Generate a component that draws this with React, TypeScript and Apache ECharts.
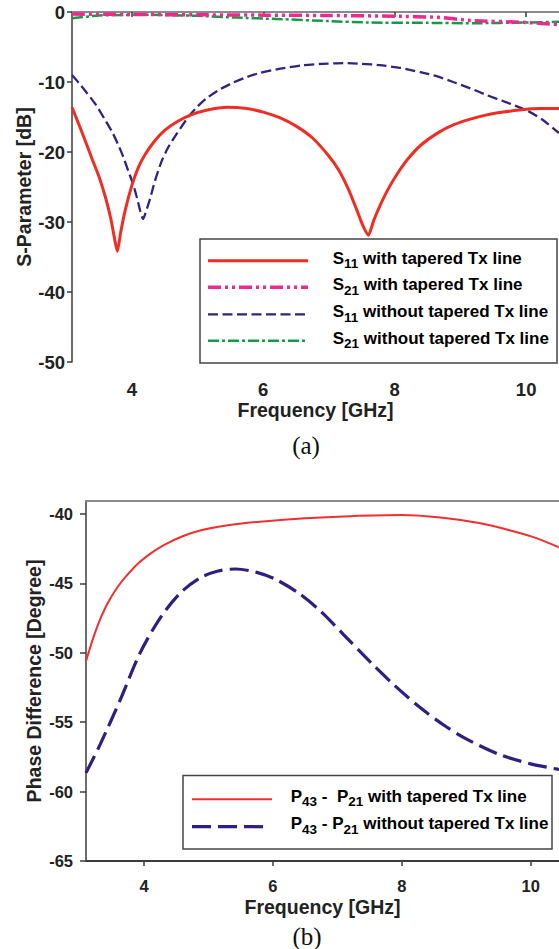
import React, { useEffect, useRef } from "react";
import * as echarts from "echarts";

// ---------- data (chart a: S-parameters) ----------
const s11Tapered: [number, number][] = [
  [3.09, -13.6], [3.2, -16.2], [3.3, -18.6], [3.4, -21.1], [3.5, -23.5], [3.6, -26.5],
  [3.68, -29.5], [3.74, -32.5], [3.78, -34.2], [3.83, -31.5], [3.9, -28.3], [4.0, -24.8],
  [4.1, -22.2], [4.2, -20.4], [4.35, -18.4], [4.5, -16.9], [4.7, -15.6], [4.9, -14.7],
  [5.15, -14.0], [5.45, -13.6], [5.75, -13.8], [6.0, -14.3], [6.25, -15.1], [6.5, -16.3],
  [6.75, -18.0], [7.0, -20.6], [7.15, -22.6], [7.3, -25.4], [7.42, -28.2], [7.52, -30.6],
  [7.6, -31.9], [7.68, -29.8], [7.78, -27.6], [7.9, -25.3], [8.04, -23.1], [8.2, -21.0],
  [8.4, -19.0], [8.65, -17.3], [8.9, -16.1], [9.15, -15.3], [9.4, -14.7], [9.65, -14.3],
  [9.9, -14.0], [10.2, -13.8], [10.5, -13.8],
];
const s21Tapered: [number, number][] = [
  [3.09, -0.3], [4, -0.35], [5, -0.4], [6, -0.45], [7, -0.5], [8, -0.6],
  [8.65, -0.76], [9.15, -1.2], [10, -1.5], [10.5, -1.8],
];
const s11Untapered: [number, number][] = [
  [3.09, -9], [3.2, -10.2], [3.32, -11.6], [3.45, -13.2], [3.58, -15.2], [3.71, -17.3],
  [3.8, -19.1], [3.87, -20.7], [3.95, -22.8], [4.02, -24.6], [4.08, -26.6], [4.13, -28.5],
  [4.17, -29.6], [4.22, -28.4], [4.28, -26.6], [4.35, -24.2], [4.45, -21.4], [4.55, -19.4],
  [4.69, -17.3], [4.86, -15.0], [5.0, -13.5], [5.14, -12.3], [5.35, -11.0], [5.54, -10.1],
  [5.75, -9.3], [5.95, -8.7], [6.26, -8.1], [6.6, -7.6], [6.9, -7.4], [7.22, -7.3],
  [7.5, -7.4], [7.78, -7.6], [8.1, -8.0], [8.39, -8.6], [8.65, -9.2], [8.89, -10.0],
  [9.15, -10.9], [9.41, -11.9], [9.7, -12.9], [10.02, -14.1], [10.25, -15.4], [10.5, -17.3],
];
const s21Untapered: [number, number][] = [
  [3.09, -0.9], [3.5, -0.5], [4.2, -0.4], [5.0, -0.55], [5.6, -0.8], [6.2, -1.0],
  [7.0, -1.3], [7.6, -1.5], [8.5, -1.55], [9.2, -1.6], [10.0, -1.5], [10.5, -1.4],
];

// ---------- data (chart b: phase difference) ----------
const phaseTapered: [number, number][] = [
  [3.1, -50.6], [3.2, -49.1], [3.3, -47.8], [3.4, -46.75], [3.5, -45.9], [3.6, -45.2],
  [3.7, -44.6], [3.9, -43.6], [4.1, -42.85], [4.3, -42.25], [4.6, -41.6], [4.9, -41.15],
  [5.3, -40.8], [5.8, -40.55], [6.5, -40.3], [7.2, -40.15], [8.0, -40.07], [8.6, -40.25],
  [9.2, -40.65], [9.7, -41.2], [10.1, -41.75], [10.44, -42.4],
];
const phaseUntapered: [number, number][] = [
  [3.1, -58.65], [3.32, -56.6], [3.63, -53.4], [3.94, -50.0], [4.25, -47.5], [4.56, -45.7],
  [4.87, -44.6], [5.15, -44.1], [5.42, -43.96], [5.75, -44.2], [6.04, -44.7], [6.4, -45.7],
  [6.74, -47.0], [7.1, -48.7], [7.52, -50.7], [7.9, -52.4], [8.3, -54.0], [8.65, -55.2],
  [9.0, -56.2], [9.5, -57.3], [10.0, -58.0], [10.44, -58.4],
];

const freqTicks = [4, 6, 8, 10];
const phaseTicks = [-65, -60, -55, -50, -45, -40];

const legendA = [
  { sym: "S", sub: "11", rest: " with tapered Tx line" },
  { sym: "S", sub: "21", rest: " with tapered Tx line" },
  { sym: "S", sub: "11", rest: " without tapered Tx line" },
  { sym: "S", sub: "21", rest: " without tapered Tx line" },
];
const legendB = [
  { a: "P", s1: "43", mid: " -  P", s2: "21", rest: " with tapered Tx line" },
  { a: "P", s1: "43", mid: " - P", s2: "21", rest: " without tapered Tx line" },
];

const SANS = "'Liberation Sans', Arial, sans-serif";
const SERIF = "'Liberation Serif', 'Times New Roman', serif";
const AXIS = "#3c3c3c";
const FRAME = "#8a8a8a";
const TXT = "#222";

const RED = "#ee2e24";
const MAGENTA = "#ec2a8c";
const NAVY = "#33237f";
const GREEN = "#169a47";

const styleA = [
  { color: RED, width: 3, type: "solid" as any },
  { color: MAGENTA, width: 3.5, type: [13, 4, 3, 4, 3, 4] },
  { color: NAVY, width: 2.3, type: [10, 4.5] },
  { color: GREEN, width: 2.5, type: [11, 3, 3, 3] },
];
const styleB = [
  { color: "#f03030", width: 2, type: "solid" as any },
  { color: "#2e1f80", width: 3.2, type: [19, 7] },
];

function richLegendA(i: number) {
  const it = legendA[i];
  return `{m|${it.sym}}{s|${it.sub}}{m|${it.rest}}`;
}
function richLegendB(i: number) {
  const it = legendB[i];
  return `{m|${it.a}}{s|${it.s1}}{m|${it.mid}}{s|${it.s2}}{m|${it.rest}}`;
}
const rich = {
  m: { fontSize: 17, fontWeight: "bold", fontFamily: SANS, color: TXT, lineHeight: 21, verticalAlign: "top" },
  s: { fontSize: 13.5, fontWeight: "bold", fontFamily: SANS, color: TXT, lineHeight: 21, verticalAlign: "bottom" },
};

function buildOption(): any {
  const seriesA = [s11Tapered, s21Tapered, s11Untapered, s21Untapered].map((d, i) => ({
    type: "line",
    xAxisIndex: 0,
    yAxisIndex: 0,
    data: d,
    symbol: "none",
    smooth: 0.2,
    lineStyle: { ...styleA[i], cap: "butt" },
    z: [3, 4, 2, 3][i],
  }));
  const seriesB = [phaseTapered, phaseUntapered].map((d, i) => ({
    type: "line",
    xAxisIndex: 2,
    yAxisIndex: 1,
    data: d,
    symbol: "none",
    smooth: 0.3,
    lineStyle: { ...styleB[i], cap: "butt" },
  }));

  const lineYA = [260.7, 287.3, 314.3, 340.7];
  const lineYB = [799.3, 826.7];

  const graphics: any[] = [
    { type: "rect", z: 100, shape: { x: 200, y: 239, width: 357, height: 124 }, style: { fill: "#fff", stroke: "#444", lineWidth: 1.5 } },
    { type: "rect", z: 100, shape: { x: 183, y: 775.5, width: 369, height: 73.5 }, style: { fill: "#fff", stroke: "#444", lineWidth: 1.5 } },
    { type: "text", z: 101, style: { text: "(a)", x: 306, y: 445, align: "center", verticalAlign: "middle", fontSize: 25, fontFamily: SERIF, fill: "#111" } },
    { type: "text", z: 101, style: { text: "(b)", x: 307, y: 936, align: "center", verticalAlign: "middle", fontSize: 25, fontFamily: SERIF, fill: "#111" } },
  ];
  lineYA.forEach((y, i) => {
    graphics.push({
      type: "line", z: 101,
      shape: { x1: 208, y1: y, x2: 308, y2: y },
      style: { stroke: styleA[i].color, lineWidth: styleA[i].width, lineDash: Array.isArray(styleA[i].type) ? styleA[i].type : null },
    });
    graphics.push({
      type: "text", z: 101,
      style: { text: richLegendA(i), rich, x: 332.7, y: y - 11, verticalAlign: "top", align: "left" },
    });
  });
  lineYB.forEach((y, i) => {
    graphics.push({
      type: "line", z: 101,
      shape: { x1: 192, y1: y, x2: i === 0 ? 272 : 264, y2: y },
      style: { stroke: styleB[i].color, lineWidth: styleB[i].width, lineDash: Array.isArray(styleB[i].type) ? styleB[i].type : null },
    });
    graphics.push({
      type: "text", z: 101,
      style: { text: richLegendB(i), rich, x: 290.7, y: y - 11.5, verticalAlign: "top", align: "left" },
    });
  });

  const nameStyle = { fontSize: 19.5, fontWeight: "bold", fontFamily: SANS, color: TXT };

  return {
    animation: false,
    backgroundColor: "#fff",
    grid: [
      { left: 72, top: 12, width: 487, height: 350 },
      { left: 86, top: 501, width: 473, height: 360 },
    ],
    xAxis: [
      {
        gridIndex: 0, type: "value", min: 3.09, max: 10.5, offset: 5,
        axisLine: { show: true, lineStyle: { color: AXIS, width: 1.8 } },
        axisTick: { show: true, length: 5, customValues: freqTicks, lineStyle: { color: AXIS, width: 1.5 } },
        axisLabel: { customValues: freqTicks, fontSize: 18.5, fontWeight: "bold", fontFamily: SANS, color: TXT, margin: 13 },
        splitLine: { show: false },
        name: "Frequency [GHz]", nameLocation: "middle", nameGap: 30, nameTextStyle: nameStyle,
      },
      {
        gridIndex: 0, type: "value", min: 3.09, max: 10.5, position: "top",
        axisLine: { show: true, lineStyle: { color: FRAME, width: 1.8 } },
        axisTick: { show: false }, axisLabel: { show: false }, splitLine: { show: false },
      },
      {
        gridIndex: 1, type: "value", min: 3.1, max: 10.44,
        axisLine: { show: true, lineStyle: { color: AXIS, width: 1.8 } },
        axisTick: { show: true, length: 5, customValues: freqTicks, lineStyle: { color: AXIS, width: 1.5 } },
        axisLabel: { customValues: freqTicks, fontSize: 16.5, fontWeight: "bold", fontFamily: SANS, color: TXT, margin: 16 },
        splitLine: { show: false },
        name: "Frequency [GHz]", nameLocation: "middle", nameGap: 36, nameTextStyle: nameStyle,
      },
      {
        gridIndex: 1, type: "value", min: 3.1, max: 10.44, position: "top",
        axisLine: { show: true, lineStyle: { color: FRAME, width: 1.8 } },
        axisTick: { show: false }, axisLabel: { show: false }, splitLine: { show: false },
      },
    ],
    yAxis: [
      {
        gridIndex: 0, type: "value", min: -50, max: 0, interval: 10,
        axisLine: { show: true, lineStyle: { color: AXIS, width: 1.5 } },
        axisTick: { show: true, length: 5, lineStyle: { color: AXIS, width: 1.5 } },
        axisLabel: { fontSize: 18.5, fontWeight: "bold", fontFamily: SANS, color: TXT, margin: 7 },
        splitLine: { show: false },
        name: "S-Parameter [dB]", nameLocation: "middle", nameRotate: 90, nameGap: 38, nameMoveOverlap: false, nameTextStyle: nameStyle,
      },
      {
        gridIndex: 1, type: "value", min: -65, max: -39.06,
        axisLine: { show: true, lineStyle: { color: AXIS, width: 1.5 } },
        axisTick: { show: true, length: 6, customValues: phaseTicks, lineStyle: { color: AXIS, width: 1.5 } },
        axisLabel: { customValues: phaseTicks, fontSize: 16.5, fontWeight: "bold", fontFamily: SANS, color: TXT, margin: 13 },
        splitLine: { show: false },
        name: "Phase Difference [Degree]", nameLocation: "middle", nameRotate: 90, nameGap: 42, nameMoveOverlap: false, nameTextStyle: nameStyle,
      },
    ],
    series: [...seriesA, ...seriesB],
    graphic: graphics,
  };
}

export default function App() {
  const ref = useRef<HTMLDivElement>(null);
  useEffect(() => {
    if (!ref.current) return;
    const chart = echarts.init(ref.current, null, { renderer: "svg" });
    chart.setOption(buildOption());
    return () => chart.dispose();
  }, []);
  return (
    <div
      ref={ref}
      style={{ position: "absolute", left: 0, top: 0, width: 559, height: 949, background: "#fff" }}
    />
  );
}
